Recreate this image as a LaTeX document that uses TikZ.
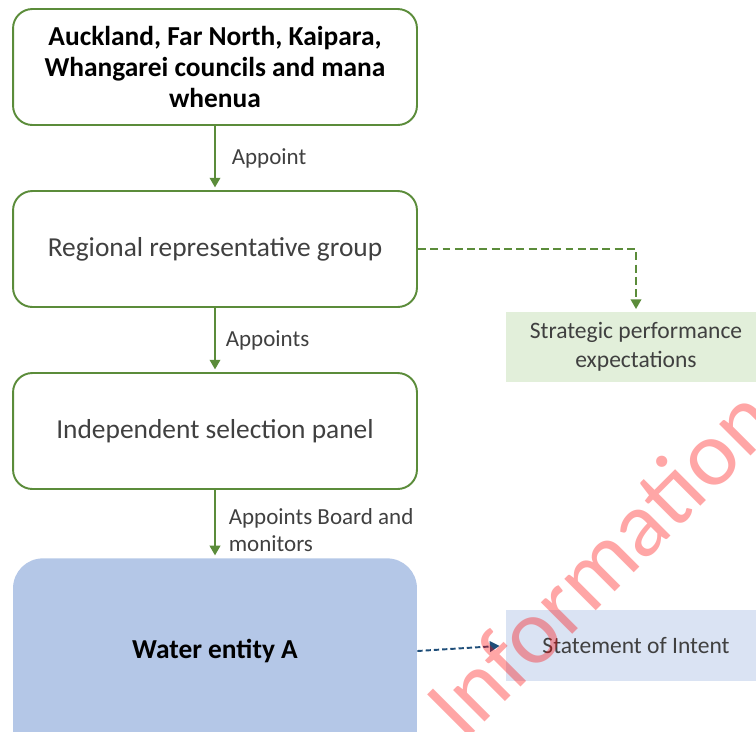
\documentclass[tikz,border=0pt]{standalone}
\usepackage{fontspec}
\setmainfont{Carlito}
\usetikzlibrary{positioning, arrows.meta}
\definecolor{colorG}{HTML}{5B8C3A}
\definecolor{colorT}{HTML}{404040}
\definecolor{colorB}{HTML}{B4C7E7}
\definecolor{colorBL}{HTML}{DAE3F3}
\definecolor{colorGL}{HTML}{E2EFDA}
\definecolor{colorD}{HTML}{1F4E79}

\begin{document}
\begin{tikzpicture}[x=0.02cm, y=-0.02cm,
    govbox/.style={draw=colorG, line width=1.1pt, rounded corners=11pt,
      minimum width=8.08cm, minimum height=2.32cm, text=colorT,
      font=\fontsize{15.6}{18}\selectfont},
    flow/.style={draw=colorG, line width=1.1pt, -{Triangle[length=5.5pt, width=6pt]}, shorten >=1.5pt},
    lbl/.style={anchor=west, text=colorT, font=\fontsize{13.1}{15.3}\selectfont, align=left},
    outbox/.style={minimum width=5.2cm, minimum height=1.4cm, text=colorT,
      font=\fontsize{13.4}{16.3}\selectfont, align=center}]
        \clip (0,0) rectangle (756,731);
        % boxes on the left
        \node[govbox, font=\fontsize{15.6}{17.8}\selectfont\bfseries, text=black, align=center] (councils) at (215,67) {Auckland, Far North, Kaipara,\\Whangarei councils and mana\\whenua};
        \node[govbox] (regional) at (215,249) {Regional representative group};
        \node[govbox] (panel) at (215,431) {Independent selection panel};
        \node[fill=colorB, rounded corners=17pt, minimum width=8.08cm, minimum height=5cm, anchor=north] (entity) at (215,558) {};
        \node[font=\fontsize{15.6}{17}\selectfont\bfseries] (entitytext) at (215,651) {Water entity A};
        % boxes on the right
        \node[outbox, fill=colorGL] (expect) at (636,347) {Strategic performance\\expectations};
        \node[outbox, fill=colorBL, minimum height=1.42cm] (intent) at (636,645.5) {Statement of Intent};
        % arrows
        \draw[flow] (councils) -- node[lbl, xshift=0.2cm] {Appoint} (regional);
        \draw[flow] (regional) -- node[lbl, xshift=0.08cm] {Appoints} (panel);
        \draw[flow] (panel) -- node[lbl, xshift=0.14cm, pos=0.59] {Appoints Board and\\monitors} (entity);
        \draw[flow, dash pattern=on 4.5pt off 2.5pt] (regional.east) -| (expect.north);
        \draw[draw=colorD, line width=1.1pt, dash pattern=on 3pt off 1.7pt, -{Triangle[length=5.5pt, width=6pt]}, shorten >=3.5pt] (entitytext -| entity.east) -- (intent.west);
        % stamp
        \node[rotate=45, text=red, text opacity=0.35, font=\fontsize{53}{53}\selectfont] (stamp) at (600,562) {Information};
    \end{tikzpicture}
\end{document}
